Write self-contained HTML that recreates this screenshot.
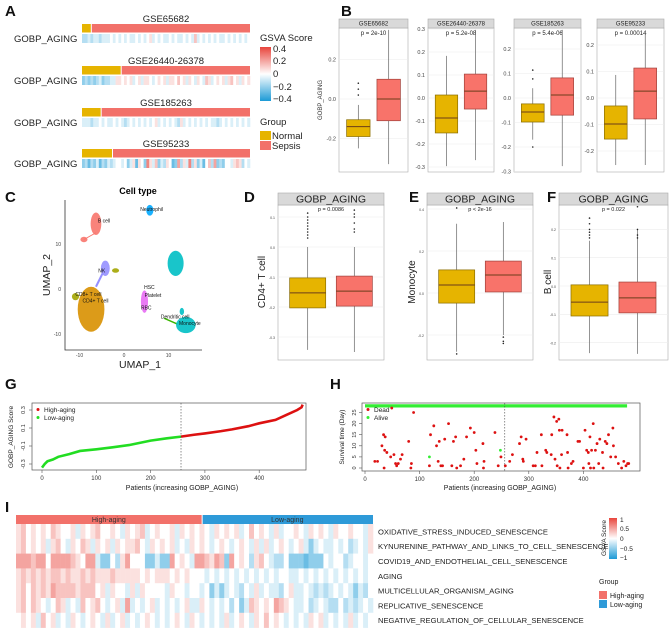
<!DOCTYPE html>
<html><head><meta charset="utf-8"><style>
html,body{margin:0;padding:0;background:#fff;}
svg{display:block;font-family:"Liberation Sans",Arial,sans-serif;}
</style></head><body>
<svg id="fig" width="669" height="628" viewBox="0 0 669 628" xmlns="http://www.w3.org/2000/svg">
<defs>
<linearGradient id="gsva" x1="0" y1="0" x2="0" y2="1">
<stop offset="0" stop-color="#e8453c"/><stop offset="0.5" stop-color="#ffffff"/><stop offset="1" stop-color="#1c9ad6"/>
</linearGradient>
</defs>
<g font-weight="bold" font-size="15" fill="#111">
<text x="5" y="16">A</text><text x="341" y="16">B</text><text x="5" y="202">C</text>
<text x="244" y="202">D</text><text x="409" y="202">E</text><text x="547" y="202">F</text>
<text x="5" y="389">G</text><text x="330" y="389">H</text><text x="5" y="512">I</text>
</g>
<g font-size="9.5" fill="#222">
<text x="166" y="22" text-anchor="middle">GSE65682</text>
<text x="166" y="64" text-anchor="middle">GSE26440-26378</text>
<text x="166" y="106" text-anchor="middle">GSE185263</text>
<text x="166" y="147" text-anchor="middle">GSE95233</text>
<text x="14" y="42">GOBP_AGING</text><text x="14" y="84">GOBP_AGING</text>
<text x="14" y="126">GOBP_AGING</text><text x="14" y="167">GOBP_AGING</text>
</g>
<g font-size="9.5" fill="#222">
<text x="260" y="41">GSVA Score</text>
<rect x="260" y="47" width="11" height="54" fill="url(#gsva)"/>
<text x="273" y="52">0.4</text><text x="273" y="64">0.2</text><text x="273" y="77">0</text>
<text x="273" y="90">−0.2</text><text x="273" y="102">−0.4</text>
<text x="260" y="125">Group</text>
<rect x="260" y="131" width="11" height="9" fill="#e6b400"/><text x="272" y="139">Normal</text>
<rect x="260" y="141" width="11" height="9" fill="#f2716a"/><text x="272" y="149">Sepsis</text>
</g>
<g id="pa"></g>
<text x="322" y="100" font-size="6" fill="#333" transform="rotate(-90 322 100)" text-anchor="middle">GOBP_AGING</text>
<g id="pb"></g>
<text x="138" y="194" font-size="9" font-weight="bold" text-anchor="middle">Cell type</text>
<g id="pc"></g>
<text x="140" y="368" font-size="10.5" text-anchor="middle" fill="#222">UMAP_1</text>
<text x="50" y="275" font-size="10.5" text-anchor="middle" fill="#222" transform="rotate(-90 50 275)">UMAP_2</text>
<g id="pdef"></g>
<text x="265" y="282" font-size="10" text-anchor="middle" fill="#222" transform="rotate(-90 265 282)">CD4+ T cell</text>
<text x="415" y="282" font-size="10" text-anchor="middle" fill="#222" transform="rotate(-90 415 282)">Monocyte</text>
<text x="551" y="282" font-size="10" text-anchor="middle" fill="#222" transform="rotate(-90 551 282)">B cell</text>
<g id="pg"></g>
<g id="ph"></g>
<g id="pi"></g>
<g font-size="6.5" fill="#222">
<text x="606" y="538" text-anchor="middle" transform="rotate(-90 606 538)">GSVA Score</text>
<rect x="609" y="518" width="8" height="41" fill="url(#gsva)"/>
<text x="620" y="522">1</text><text x="620" y="531">0.5</text><text x="620" y="541">0</text>
<text x="620" y="551">−0.5</text><text x="620" y="560">−1</text>
<text x="599" y="584" font-size="7">Group</text>
<rect x="599" y="591" width="8" height="8" fill="#f2716a"/><text x="610" y="598" font-size="7">High-aging</text>
<rect x="599" y="600" width="8" height="8" fill="#2e9ad8"/><text x="610" y="607" font-size="7">Low-aging</text>
</g>
</svg>
<script>
const A_heat = [
"223233233343434343343434534343343433434363434343433434343434",
"121212312233554545345355434545355464535435436534545356453545",
"333233434334343234343434345343434325343434343433234343434343",
"120213021323443413505418536132540172538251304627121443565243"];
const A_nNormal = [42, 38, 12, 10];
const A_nTotal = [802, 165, 108, 56];

const B_names = ["GSE65682","GSE26440-26378","GSE185263","GSE95233"];
const B_pvals = ["p = 2e-10","p = 5.2e-08","p = 5.4e-06","p = 0.00014"];
const B_normal = [[-0.25,-0.19,-0.14,-0.105,-0.03],[-0.296,-0.152,-0.087,0.013,0.183],[-0.17,-0.098,-0.057,-0.024,0.04],[-0.253,-0.155,-0.098,-0.03,0.087]];
const B_sepsis = [[-0.33,-0.11,0.0,0.1,0.35],[-0.27,-0.048,0.03,0.104,0.296],[-0.278,-0.07,0.012,0.082,0.278],[-0.253,-0.079,0.026,0.113,0.245]];
const B_normalOut = [[0.02,0.05,0.08],[],[0.078,0.114,-0.2],[]];
const B_ticks = [[0.2,0.0,-0.2],[0.3,0.2,0.1,0.0,-0.1,-0.2,-0.3],[0.2,0.1,0.0,-0.1,-0.2,-0.3],[0.2,0.1,0.0,-0.1,-0.2]];

const C_names = ["B cell","B cell","Neutrophil","Epithelial","NK","NK2","CD4+ T cell","CD8+ T cell","HSC","Monocyte","Monocyte2"];
const C_cx = [-6.3,-9,5.8,11.6,-4.2,-1.9,-7.4,-10.9,4.6,13.9,13];
const C_cy = [14.5,11,17.5,5.7,4.6,4.1,-4.5,-1.7,-2.8,-8,-5];
const C_rx = [1.2,0.8,0.8,1.8,1.0,0.8,3.0,0.8,0.8,2.2,0.5];
const C_ry = [2.5,0.6,1.2,2.8,1.7,0.5,5.0,0.8,2.5,1.8,0.8];
const C_labels = ["B cell","Neutrophil","NK","CD8+ T cell","CD4+ T cell","HSC","Platelet","RBC","Dendritic cell","Monocyte"];
const C_lx = [-4.5,6.2,-5.0,-8.0,-6.4,5.7,6.5,5.0,11.5,14.8];
const C_ly = [14.8,17.3,3.7,-1.5,-3.0,0.0,-1.8,-4.5,-6.5,-8.0];

const DEF_pvals = ["p = 0.0086","p < 2e-16","p = 0.022"];
const DEF_ticks = [[0.1,0.0,-0.1,-0.2,-0.3],[0.4,0.2,0.0,-0.2],[0.2,0.1,0.0,-0.1,-0.2]];
const DEF_normal = [[-0.343,-0.203,-0.153,-0.103,0.0],[-0.28,-0.048,0.038,0.11,0.33],[-0.237,-0.106,-0.057,0.004,0.16]];
const DEF_disease = [[-0.35,-0.197,-0.147,-0.097,0.0],[-0.2,0.005,0.086,0.152,0.338],[-0.24,-0.095,-0.042,0.014,0.2]];
const DEF_normalOut = [[0.113,0.1,0.09,0.08,0.07,0.06,0.05,0.04,0.03],[0.405,-0.29],[0.24,0.22,0.2,0.19,0.18,0.17]];
const DEF_diseaseOut = [[0.123,0.11,0.1,0.08,0.06,0.05],[-0.21,-0.23,-0.24],[0.28,0.2,0.18,0.17]];

const G_idx = [0,5,10,20,30,50,70,100,130,160,200,230,256,280,300,330,350,380,400,430,450,470,478,480];
const G_val = [-0.34,-0.30,-0.27,-0.25,-0.22,-0.19,-0.155,-0.137,-0.115,-0.09,-0.04,-0.015,0.004,0.025,0.04,0.065,0.085,0.12,0.152,0.19,0.245,0.3,0.33,0.36];
const G_cut = 256;
const G_xticks = [0,100,200,300,400];
const G_yticks = [0.3,0.1,-0.1,-0.3];

const H_deadP = [18,23,31,34,35,36,37,40,47,49,53,56,58,61,65,68,80,84,85,89,118,120,126,131,134,136,139,142,146,153,159,162,166,168,175,181,186,193,200,203,205,216,217,218,238,244,249,257,265,270,283,286,289,290,295,308,312,315,323,324,331,333,341,342,346,348,351,352,355,356,357,360,361,370,371,372,378,381,390,393,400,403,406,409,410,412,413,415,418,419,422,425,428,430,435,436,440,443,446,450,454,455,459,464,470,474,478,481,483];
const H_deadD = [3,3,10,15,0,8,14,7,5,27,6,2,1,2,4,6,12,0,2,25,1,15,19,10,3,12,1,1,13,20,1,12,14,0,1,4,14,18,16,8,2,11,0,3,16,1,5,1,3,6,11,14,4,3,13,1,1,7,15,1,8,7,6,15,23,4,21,1,22,17,0,6,17,15,7,0,2,3,12,12,0,17,8,7,2,14,0,8,20,0,8,11,2,13,7,0,12,11,15,5,18,10,5,2,0,3,1,2,2];
const H_aliveP = [118,248];
const H_aliveD = [5,8];
const H_xticks = [0,100,200,300,400];
const H_yticks = [0,5,10,15,20,25];
const H_n = 480;

const I_rows = ["OXIDATIVE_STRESS_INDUCED_SENESCENCE","KYNURENINE_PATHWAY_AND_LINKS_TO_CELL_SENESCENCE","COVID19_AND_ENDOTHELIAL_CELL_SENESCENCE","AGING","MULTICELLULAR_ORGANISM_AGING","REPLICATIVE_SENESCENCE","NEGATIVE_REGULATION_OF_CELLULAR_SENESCENCE"];
const I_heat = [
"564545465445354564454354563454453545454354545346454353445435454354454435",
"564545356435465354535455643545453435454345434543535345434531343343423435",
"777677477776547731142574441131174543776576174542564322411101114344234434",
"565656566565565655565555545455545454443434343434343434433434343434343434",
"564656576666566645354435354444354434434131343243534332453343232343431324",
"564654346534364564345373434534343453354343424136545476543342343224232343",
"454536453435434543534534345434345435434343534543546454343435453434353434"];
const I_nHigh = 256, I_nTotal = 480;

const NS = "http://www.w3.org/2000/svg";
function mk(tag, parent){const e=document.createElementNS(NS,tag);parent.appendChild(e);return e;}
function set(e,o){for(const k in o)e.setAttribute(k,o[k]);return e;}
function heatColor(v){
  const r0=[28,154,214], w=[255,255,255], r1=[232,69,60];
  const t=Math.min(1,Math.abs(v)*0.65); const c=v<0?r0:r1;
  return "rgb("+c.map((x,i)=>Math.round(w[i]+(x-w[i])*t)).join(",")+")";
}
function digitVal(ch){return (parseInt(ch,10)-4)/4;}
function txt(parent,x,y,s,size,anchor,fill){const t=mk("text",parent);set(t,{x:x,y:y,"font-size":size,"text-anchor":anchor||"start",fill:fill||"#333"});t.textContent=s;return t;}

(function(){
  const g=document.getElementById("pa");
  const x0=82, x1=250, barY=[24,66,108,149];
  A_heat.forEach((row,b)=>{
    const nx = x0+(x1-x0)*A_nNormal[b]/A_nTotal[b];
    const r1=mk("rect",g);set(r1,{x:x0,y:barY[b],width:nx-x0,height:8.5,fill:"#e6b400"});
    
    
    const r2=mk("rect",g);set(r2,{x:nx+1,y:barY[b],width:x1-nx-1,height:8.5,fill:"#f2716a"});
    
    
    const w=(x1-x0)/row.length;
    for(let i=0;i<row.length;i++){
      const c=mk("rect",g);set(c,{x:x0+i*w,y:barY[b]+10,width:w+0.3,height:9,fill:heatColor(digitVal(row[i]))});
      
      
    }
  });
})();

function boxplot(g, x0, x1, yTop, yBot, zeroY, ppu, ticks, stA, stB, outA, outB, name, pval, big){
  const ys=v=>zeroY - v*ppu;
  const bg=mk("rect",g);set(bg,{x:x0,y:yTop,width:x1-x0,height:yBot-yTop,fill:"#fff",stroke:"#aaa","stroke-width":0.6});
  
  
  ticks.forEach(t=>{
    const l=mk("line",g);set(l,{x1:x0,x2:x1,y1:ys(t),y2:ys(t),stroke:"#ececec","stroke-width":0.6});
    
    
    const lab=txt(g,x0-3,ys(t)+1.8,t.toFixed(1),big?3.5:5.5,"end","#444");
    
    
  });
  const sh = big?12:9;
  const st=mk("rect",g);set(st,{x:x0,y:yTop-sh,width:x1-x0,height:sh,fill:"#d9d9d9",stroke:"#aaa","stroke-width":0.6});
  
  
  const sn=txt(g,(x0+x1)/2,yTop-(big?2.5:2.3),name,big?10.5:6,"middle","#222");
  
  
  const pv=txt(g,(x0+x1)/2,yTop+(big?6:7),pval,big?5.5:6,"middle","#222");
  
  
  const W=x1-x0, bw=W*0.34;
  [[stA,outA,0.28,"#e6b400","#8a6d00"],[stB,outB,0.72,"#f8736a","#a0403a"]].forEach(([s,o,f,fill,dark])=>{
    const cx=x0+W*f;
    const wl=mk("line",g);set(wl,{x1:cx,x2:cx,y1:ys(s[4]),y2:ys(s[0]),stroke:"#666","stroke-width":0.7});
    
    
    const b=mk("rect",g);set(b,{x:cx-bw/2,y:ys(s[3]),width:bw,height:ys(s[1])-ys(s[3]),fill:fill,stroke:dark,"stroke-width":0.7});
    
    
    const m=mk("line",g);set(m,{x1:cx-bw/2,x2:cx+bw/2,y1:ys(s[2]),y2:ys(s[2]),stroke:"#6b3d1a","stroke-width":1});
    
    
    o.forEach(v=>{
      const d=mk("circle",g);set(d,{cx:cx,cy:ys(v),r:0.8,fill:"#222"});
      
      
    });
  });
}

(function(){
  const g=document.getElementById("pb");
  const xr=[[339,408],[428,494],[514,581],[597,664]], z=[99,98,98,98], p=[197.5,230,245,265];
  B_names.forEach((n,i)=>{
    boxplot(g,xr[i][0],xr[i][1],28,172,z[i],p[i],B_ticks[i],B_normal[i],B_sepsis[i],B_normalOut[i],[],n,B_pvals[i],false);
  });
})();

(function(){
  const g=document.getElementById("pdef");
  const xr=[[278,384],[427,533],[559,668]], z=[247,293,286], p=[300,210,283];
  DEF_pvals.forEach((pv,i)=>{
    boxplot(g,xr[i][0],xr[i][1],205,360,z[i],p[i],DEF_ticks[i],DEF_normal[i],DEF_disease[i],DEF_normalOut[i],DEF_diseaseOut[i],"GOBP_AGING",pv,true);
  });
})();

(function(){
  const g=document.getElementById("pc");
  const xs=v=>124+v*4.45, ys=v=>289-v*4.5;
  const cols=["#f8766d","#f8766d","#00a9ff","#00bfc4","#9590ff","#a3a500","#d89000","#a3a500","#e76bf3","#00bfc4","#00bfc4"];
  const ax=mk("path",g);set(ax,{d:"M65 200 V350 H202",fill:"none",stroke:"#333","stroke-width":0.8});
  
  
  [-10,0,10].forEach(t=>{
    const a=txt(g,xs(t),357,String(t),5,"middle","#444");
    
    
    const b=txt(g,61,ys(t)+2,String(t),5,"end","#444");
    
    
  });
  const tl=mk("path",g);set(tl,{d:`M${xs(-6.3)} ${ys(12.5)} L${xs(-9)} ${ys(11)}`,stroke:"#f8766d","stroke-width":1,fill:"none"});
  
  
  const nk=mk("path",g);set(nk,{d:`M${xs(-4.8)} ${ys(3.5)} L${xs(-6.3)} ${ys(0.5)}`,stroke:"#9590ff","stroke-width":2,fill:"none"});
  
  
  const dc=mk("path",g);set(dc,{d:`M${xs(9)} ${ys(-6.5)} L${xs(12)} ${ys(-7.8)}`,stroke:"#39b600","stroke-width":1.5,fill:"none"});
  
  
  C_cx.forEach((cx,i)=>{
    const e=mk("ellipse",g);set(e,{cx:xs(cx),cy:ys(C_cy[i]),rx:C_rx[i]*4.45,ry:C_ry[i]*4.5,fill:cols[i],"fill-opacity":0.9});
    
    
  });
  C_labels.forEach((l,i)=>{
    const t=txt(g,xs(C_lx[i]),ys(C_ly[i]),l,5,"middle","#111");
    
    
  });
})();

(function(){
  const g=document.getElementById("pg");
  const xs=p=>42+p*0.543, ys=v=>437-v*90;
  const f=mk("rect",g);set(f,{x:32,y:403,width:274,height:67,fill:"none",stroke:"#555","stroke-width":0.7});
  
  
  G_xticks.forEach(t=>{
    const l=mk("line",g);set(l,{x1:xs(t),x2:xs(t),y1:470,y2:473,stroke:"#555","stroke-width":0.6});
    
    
    const a=txt(g,xs(t),480,String(t),6,"middle","#333");
    
    
  });
  G_yticks.forEach(t=>{
    const l=mk("line",g);set(l,{x1:29,x2:32,y1:ys(t),y2:ys(t),stroke:"#555","stroke-width":0.6});
    
    
    const a=txt(g,25,ys(t),t.toFixed(1),5.5,"middle","#333");
    a.setAttribute('transform',`rotate(-90 25 ${ys(t)})`);
    
    
  });
  let low=[],high=[];
  G_idx.forEach((p,i)=>{const pt=xs(p)+","+ys(G_val[i]); if(p<=G_cut)low.push(pt); if(p>=G_cut)high.push(pt);});
  const l1=mk("polyline",g);set(l1,{points:low.join(" "),fill:"none",stroke:"#22dd22","stroke-width":2.6});
  
  
  const l2=mk("polyline",g);set(l2,{points:high.join(" "),fill:"none",stroke:"#dd1111","stroke-width":2.6});
  
  
  const d=mk("line",g);set(d,{x1:xs(G_cut),x2:xs(G_cut),y1:403,y2:470,stroke:"#444","stroke-width":0.6,"stroke-dasharray":"1.5,1.5"});
  
  
  const c1=mk("circle",g);set(c1,{cx:38,cy:409.5,r:1.5,fill:"#dd1111"});
  
  
  const c2=mk("circle",g);set(c2,{cx:38,cy:417.5,r:1.5,fill:"#22dd22"});
  
  
  txt(g,44,412,"High-aging",6.5,"start","#222");
  txt(g,44,420,"Low-aging",6.5,"start","#222");
  const xt=txt(g,182,490,"Patients (increasing GOBP_AGING)",7,"middle","#222");
  
  
  const yt=txt(g,13,437,"GOBP_AGING Score",6.5,"middle","#222");
  yt.setAttribute('transform','rotate(-90 13 437)');
  
  
})();

(function(){
  const g=document.getElementById("ph");
  const xs=p=>365+p*0.546, ys=d=>468-d*2.22;
  const f=mk("rect",g);set(f,{x:362,y:403,width:278,height:68,fill:"none",stroke:"#555","stroke-width":0.7});
  
  
  H_xticks.forEach(t=>{
    const l=mk("line",g);set(l,{x1:xs(t),x2:xs(t),y1:471,y2:474,stroke:"#555","stroke-width":0.6});
    
    
    const a=txt(g,xs(t),481,String(t),6,"middle","#333");
    
    
  });
  H_yticks.forEach(t=>{
    const l=mk("line",g);set(l,{x1:359,x2:362,y1:ys(t),y2:ys(t),stroke:"#555","stroke-width":0.6});
    
    
    const a=txt(g,356,ys(t),String(t),5.5,"middle","#333");
    a.setAttribute('transform',`rotate(-90 356 ${ys(t)})`);
    
    
  });
  const al=mk("line",g);set(al,{x1:xs(0),x2:xs(H_n),y1:ys(28),y2:ys(28),stroke:"#33ee33","stroke-width":3.2});
  
  
  const d=mk("line",g);set(d,{x1:xs(256),x2:xs(256),y1:403,y2:471,stroke:"#444","stroke-width":0.6,"stroke-dasharray":"1.5,1.5"});
  
  
  H_deadP.forEach((p,i)=>{
    const c=mk("circle",g);set(c,{cx:xs(p),cy:ys(H_deadD[i]),r:1.4,fill:"#dd1111"});
    
    
  });
  H_aliveP.forEach((p,i)=>{
    const c=mk("circle",g);set(c,{cx:xs(p),cy:ys(H_aliveD[i]),r:1.4,fill:"#33ee33"});
    
    
  });
  const c1=mk("circle",g);set(c1,{cx:368,cy:409.5,r:1.5,fill:"#dd1111"});
  
  
  const c2=mk("circle",g);set(c2,{cx:368,cy:417.5,r:1.5,fill:"#33ee33"});
  
  
  txt(g,374,412,"Dead",6.5,"start","#222");
  txt(g,374,420,"Alive",6.5,"start","#222");
  const xt=txt(g,500,490,"Patients (increasing GOBP_AGING)",7,"middle","#222");
  
  
  const yt=txt(g,344,437,"Survival time (Day)",6.5,"middle","#222");
  yt.setAttribute('transform','rotate(-90 344 437)');
  
  
})();

(function(){
  const g=document.getElementById("pi");
  const x0=16, x1=373, y0=515, rh=14.8;
  const bx=x0+(x1-x0)*I_nHigh/I_nTotal*0.975;
  const b1=mk("rect",g);set(b1,{x:x0,y:y0,width:bx-x0,height:9,fill:"#f2716a"});
  
  
  const b2=mk("rect",g);set(b2,{x:bx+1,y:y0,width:x1-bx-1,height:9,fill:"#2e9ad8"});
  
  
  txt(g,(x0+bx)/2,y0+7,"High-aging",7,"middle","#333");
  txt(g,(bx+x1)/2,y0+7,"Low-aging",7,"middle","#333");
  I_heat.forEach((row,r)=>{
    const w=(x1-x0)/row.length;
    for(let i=0;i<row.length;i++){
      const c=mk("rect",g);set(c,{x:x0+i*w,y:y0+9+r*rh,width:w+0.3,height:rh+0.3,fill:heatColor(digitVal(row[i]))});
      
      
    }
    const t=txt(g,378,y0+9+r*rh+rh/2+3,I_rows[r],7.6,"start","#222");
    
    
  });
})();
</script>
</body></html>
